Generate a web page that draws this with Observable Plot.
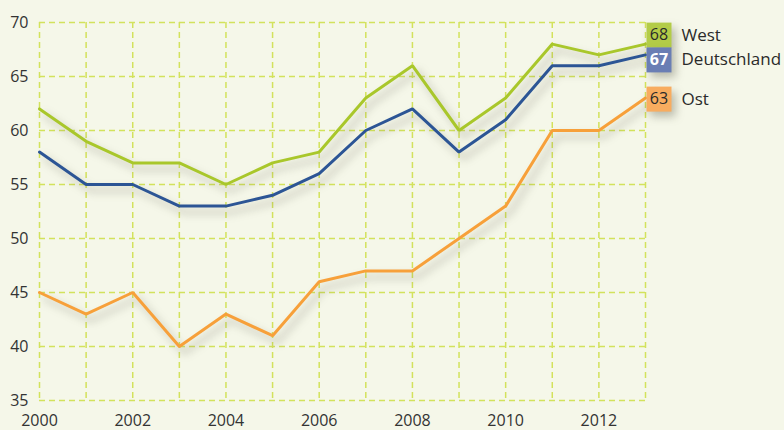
<!DOCTYPE html>
<html>
<head>
<meta charset="utf-8">
<script src="https://cdn.jsdelivr.net/npm/d3@7"></script>
<script src="https://cdn.jsdelivr.net/npm/@observablehq/plot@0.6"></script>
<style>
  html, body { margin: 0; padding: 0; background: #f5f7e9; }
  #chart { width: 784px; height: 430px; }
  g[aria-label="line"] path { filter: drop-shadow(5px 6px 4px rgba(90, 90, 70, 0.38)); }
  g[aria-label="dot"] path { filter: drop-shadow(4px 5px 4px rgba(90, 90, 70, 0.38)); }
</style>
</head>
<body>
<div id="chart"></div>
<script>
const years = [2000, 2001, 2002, 2003, 2004, 2005, 2006, 2007, 2008, 2009, 2010, 2011, 2012, 2013];
const west        = [62, 59, 57, 57, 55, 57, 58, 63, 66, 60, 63, 68, 67, 68];
const deutschland = [58, 55, 55, 53, 53, 54, 56, 60, 62, 58, 61, 66, 66, 67];
const ost         = [45, 43, 45, 40, 43, 41, 46, 47, 47, 50, 53, 60, 60, 63];
const seriesNames = ["West", "Deutschland", "Ost"];
const xTickLabels = [2000, 2002, 2004, 2006, 2008, 2010, 2012];
const yTickLabels = [35, 40, 45, 50, 55, 60, 65, 70];

const seriesValues = [west, deutschland, ost];
const lineColors = ["#a9c72b", "#2c5595", "#f7a03a"];
const boxColors  = ["#b3cc47", "#6a7eb4", "#f8ac5f"];
const boxText    = ["#2a2a2a", "#ffffff", "#2a2a2a"];
const labelShift = [-9, 5, 1];

const rows = [];
seriesNames.forEach((s, i) => years.forEach((y, j) => rows.push({series: s, year: y, value: seriesValues[i][j]})));
const last = seriesNames.map((s, i) => ({series: s, year: years[years.length - 1], value: seriesValues[i][years.length - 1], i}));

const font = "'Open Sans', 'Noto Sans', sans-serif";

const marks = [
  Plot.gridX(years, {stroke: "#d3e25c", strokeOpacity: 1, strokeWidth: 1.5, strokeDasharray: "6,4"}),
  Plot.gridY(yTickLabels, {stroke: "#d3e25c", strokeOpacity: 1, strokeWidth: 1.5, strokeDasharray: "6,4"}),
  Plot.axisX(xTickLabels, {tickSize: 0, tickPadding: 14, tickFormat: d => String(d), fontSize: 16, fill: "#333", label: null}),
  Plot.axisY(yTickLabels, {tickSize: 0, tickPadding: 11, fontSize: 16, fill: "#333", label: null}),
];
seriesNames.forEach((s, i) => {
  marks.push(Plot.line(rows.filter(r => r.series === s), {x: "year", y: "value", stroke: lineColors[i], strokeWidth: 3, strokeLinejoin: "miter"}));
});
last.forEach(d => {
  const i = d.i;
  marks.push(Plot.dot([d], {x: "year", y: "value", symbol: "square", r: Math.sqrt(625 / Math.PI), fill: boxColors[i], stroke: "none", dx: 13.5, dy: labelShift[i]}));
  marks.push(Plot.text([d], {x: "year", y: "value", text: "value", fill: boxText[i], fontSize: 16, dx: 13.5, dy: labelShift[i], fontWeight: i === 1 ? "bold" : "normal"}));
  marks.push(Plot.text([d], {x: "year", y: "value", text: "series", fill: "#2a2a2a", fontSize: 17, textAnchor: "start", dx: 36, dy: labelShift[i]}));
});

const chart = Plot.plot({
  width: 784,
  height: 430,
  marginLeft: 39,
  marginRight: 139,
  marginTop: 22,
  marginBottom: 30,
  style: {background: "#f5f7e9", fontFamily: font, overflow: "visible"},
  x: {domain: [2000, 2013], label: null},
  y: {domain: [35, 70], label: null},
  marks
});
document.getElementById("chart").appendChild(chart);
</script>
</body>
</html>
